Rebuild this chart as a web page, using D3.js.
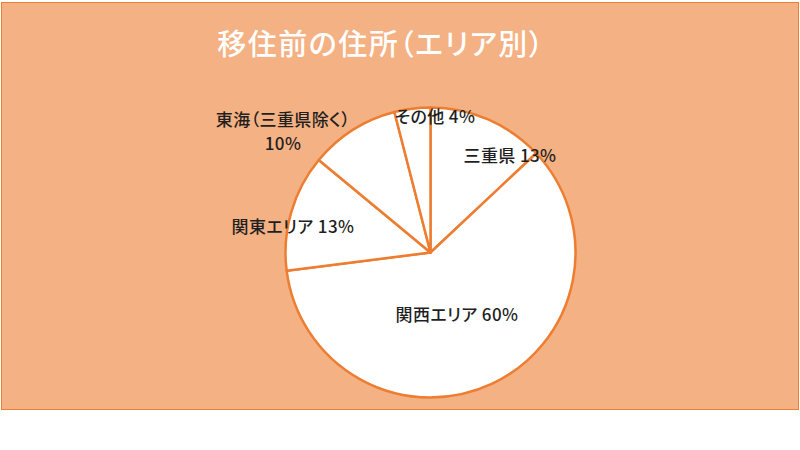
<!DOCTYPE html>
<html><head><meta charset="utf-8">
<script src="https://cdn.jsdelivr.net/npm/d3@7"></script>
<style>body{margin:0;background:#fff;}svg{display:block;font-family:"Noto Sans CJK JP","Noto Sans",sans-serif;}
.palt{font-feature-settings:"palt";}</style>
</head><body>
<svg id="c" width="800" height="450"></svg>
<script>
const categories = ["三重県", "関西エリア", "関東エリア", "東海（三重県除く）", "その他"];
const values = [13, 60, 13, 10, 4];
const labelLines = [["三重県 13%"], ["関西エリア 60%"], ["関東エリア 13%"], ["東海（三重県除く）", "10%"], ["その他 4%"]];
const labelPos = [[510, 156], [457, 315], [293, 227], [283, 120], [435, 117]];
const title = "移住前の住所（エリア別）";

const svg = d3.select("#c");
svg.append("rect").attr("x", 1.5).attr("y", 2.5).attr("width", 797).attr("height", 407)
  .attr("fill", "#F4B183").attr("stroke", "#ED7D31").attr("stroke-width", 1);

svg.append("text").attr("class", "palt").attr("x", 381).attr("y", 55).attr("text-anchor", "middle")
  .attr("fill", "#fff").attr("font-size", 29).attr("font-weight", 500).attr("letter-spacing", 1.5).text(title);

const cx = 430.5, cy = 252.5, r = 145;
const pie = d3.pie().sort(null).value(d => d);
const arc = d3.arc().innerRadius(0).outerRadius(r);
const g = svg.append("g").attr("transform", `translate(${cx},${cy})`);
g.selectAll("path").data(pie(values)).join("path")
  .attr("d", arc).attr("fill", "#fff").attr("stroke", "#ED7D31").attr("stroke-width", 2.5)
  .attr("stroke-linejoin", "round");

labelLines.forEach((lines, i) => {
  const [x, y] = labelPos[i];
  const t = svg.append("text").attr("class", "palt").attr("text-anchor", "middle").attr("fill", "#1f1f1f")
    .attr("font-size", 17).attr("font-weight", 500).attr("letter-spacing", 0.4);
  lines.forEach((l, j) => {
    t.append("tspan").attr("x", x).attr("y", y + j * 24 + 6).text(l);
  });
});
</script>
</body></html>
